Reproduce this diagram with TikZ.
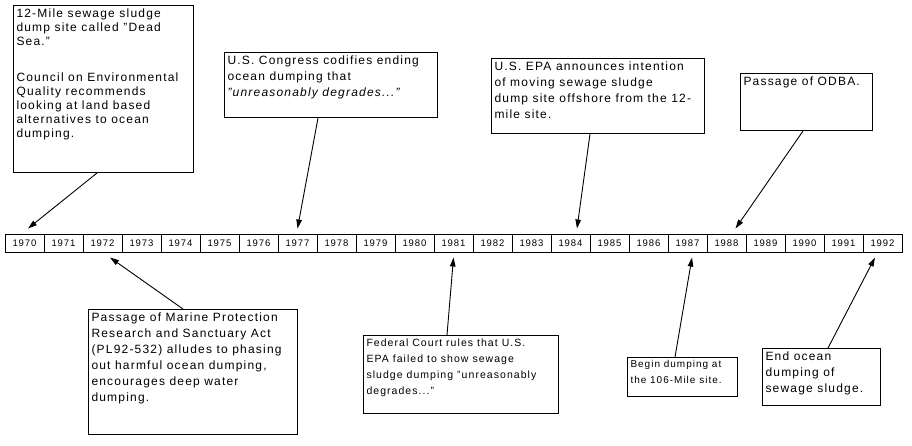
\documentclass[tikz,border=0pt]{standalone}
\usepackage{fontspec}
\setmainfont{Liberation Sans}[LetterSpace=10]
\usetikzlibrary{arrows.meta}

\tikzset{
  event/.style={draw, line width=1pt, inner sep=3pt, anchor=north west,
    font=\fontsize{12}{16}\selectfont},
  yearbox/.style={draw, line width=1pt, minimum width=39pt, minimum height=18pt,
    inner sep=0pt, font=\fontsize{9.5}{10}\selectfont},
  pointer/.style={line width=.9pt, -{Triangle[length=9pt,width=5.5pt]}}
}
\newcommand{\evbox}[3]{\parbox[c][#2][t]{#1}{\raggedright #3}}

\begin{document}
\begin{tikzpicture}[x=1pt,y=-1pt]
  \useasboundingbox (0,0) rectangle (912,445);
  \foreach \yr [count=\i from 0] in {1970,...,1992}
    \node [yearbox] (y\yr) at (24.5+39*\i,243) {\yr};

  \node [event, font=\fontsize{12}{14}\selectfont] (deadsea) at (13,5)
    {\evbox{174pt}{161pt}{12-Mile sewage sludge\\ dump site called "Dead\\ Sea."\\[22pt]
     Council on Environmental\\ Quality recommends\\ looking at land based\\
     alternatives to ocean\\ dumping.}};
  \node [event] (congress) at (224,52)
    {\evbox{207pt}{59pt}{U.S. Congress codifies ending\\ ocean dumping that\\
     \textit{"unreasonably degrades..."}}};
  \node [event] (epa) at (491,58)
    {\evbox{207pt}{69pt}{U.S. EPA announces intention\\ of moving sewage sludge\\
     dump site offshore from the 12-\\ mile site.}};
  \node [event] (odba) at (740,73)
    {\evbox{126pt}{51pt}{Passage of ODBA.}};
  \node [event] (marine) at (88,309)
    {\evbox{203pt}{119pt}{Passage of Marine Protection\\ Research and Sanctuary Act\\
     (PL92-532) alludes to phasing\\ out harmful ocean dumping,\\
     encourages deep water\\ dumping.}};
  \node [event, font=\fontsize{10.5}{16}\selectfont] (court) at (363,335)
    {\evbox{189pt}{72pt}{Federal Court rules that U.S.\\ EPA failed to show sewage\\
     sludge dumping "unreasonably\\ degrades..."}};
  \node [event, font=\fontsize{10}{16}\selectfont] (begin) at (627,357)
    {\evbox{104pt}{33pt}{Begin dumping at\\ the 106-Mile site.}};
  \node [event] (endocean) at (762,348)
    {\evbox{112pt}{51pt}{End ocean\\ dumping of\\ sewage sludge.}};

  \draw [pointer] ([xshift=84pt]deadsea.south west) -- ([xshift=3.5pt,yshift=5pt]y1970.north);
  \draw [pointer] ([xshift=94pt]congress.south west) -- ([xshift=0pt,yshift=5pt]y1977.north);
  \draw [pointer] ([xshift=99pt]epa.south west) -- ([xshift=6.5pt,yshift=5pt]y1984.north);
  \draw [pointer] ([xshift=63pt]odba.south west) -- ([xshift=9pt,yshift=5pt]y1988.north);
  \draw [pointer] ([xshift=95pt]marine.north west) -- ([xshift=7.5pt,yshift=-5pt]y1972.south);
  \draw [pointer] ([xshift=84pt]court.north west) -- ([xshift=0pt,yshift=-5pt]y1981.south);
  \draw [pointer] ([xshift=48pt]begin.north west) -- ([xshift=4.5pt,yshift=-5pt]y1987.south);
  \draw [pointer] ([xshift=66pt]endocean.north west) -- ([xshift=-7.5pt,yshift=-5pt]y1992.south);
\end{tikzpicture}
\end{document}
